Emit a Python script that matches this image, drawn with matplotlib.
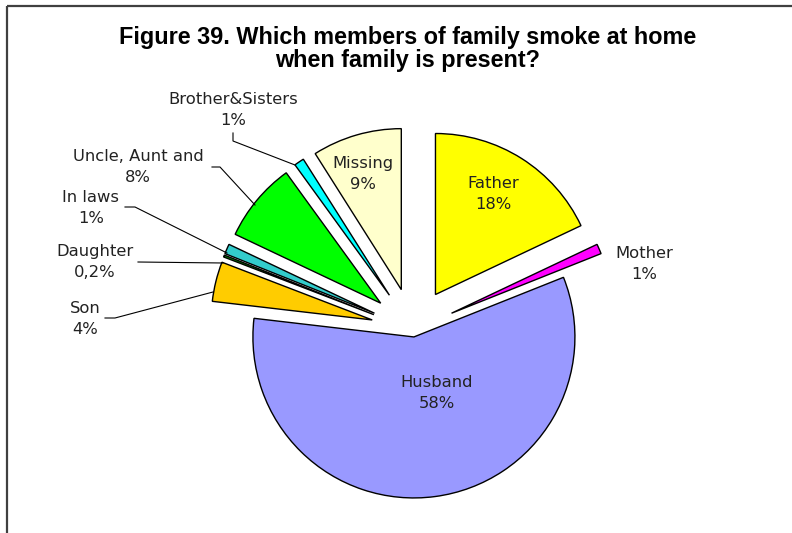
import matplotlib
matplotlib.use("Agg")
import matplotlib.pyplot as plt

# Share of respondents by which family member smokes at home (clockwise from 12 o'clock)
categories = ["Father", "Mother", "Husband", "Son", "Daughter", "In laws",
              "Uncle, Aunt and", "Brother&Sisters", "Missing"]
shares = [18, 1, 58, 4, 0.2, 1, 8, 1, 9]
share_labels = ["18%", "1%", "58%", "4%", "0,2%", "1%", "8%", "1%", "9%"]
colors = ["#FFFF00", "#FF00FF", "#9999FF", "#FFCC00", "#00A000", "#33CCCC",
          "#00FF00", "#00FFFF", "#FFFFCC"]

W, H = 792, 533
fig = plt.figure(figsize=(W / 100, H / 100), dpi=100)
ax = fig.add_axes([0, 0, 1, 1])

R = 161
cx, cy = 413, H - 330
explode = [42, 42, 7, 42, 42, 42, 42, 42, 42]

ax.pie(shares, colors=colors, explode=explode, startangle=90, counterclock=False,
       center=(cx, cy), radius=R,
       wedgeprops=dict(edgecolor="black", linewidth=1.0))

ax.set_xlim(0, W)
ax.set_ylim(0, H)
ax.set_aspect("equal")
ax.axis("off")

# chart frame
ax.plot([7, 7], [0, H - 6], color="#404040", lw=1.6, solid_capstyle="butt")
ax.plot([7, W], [H - 6, H - 6], color="#404040", lw=1.6, solid_capstyle="butt")

ax.text(408, H - 49, "Figure 39. Which members of family smoke at home\nwhen family is present?",
        ha="center", va="center", fontsize=16.8, fontweight="bold",
        family="Liberation Sans", linespacing=1.05)

lab_font = dict(fontsize=11.8, family="DejaVu Sans", color="#222222",
                ha="center", va="center", linespacing=1.45)

def lab(i, x, y, leader=None):
    ax.text(x, H - y, f"{categories[i]}\n{share_labels[i]}", **lab_font)
    if leader:
        xs = [p[0] for p in leader]
        ys = [H - p[1] for p in leader]
        ax.plot(xs, ys, color="black", lw=0.8)

# inside labels
lab(0, 493, 194)
lab(2, 437, 393)
lab(8, 363, 174)
# outside labels
lab(1, 644, 264)
lab(7, 233, 110, [(233, 133), (233, 141), (295, 165)])
lab(6, 138, 167, [(212, 167), (220, 167), (255, 205)])
lab(5, 91, 208, [(125, 207), (135, 207), (227, 253)])
lab(4, 95, 262, [(138, 262), (223, 263)])
lab(3, 85, 319, [(105, 318), (115, 318), (213, 292)])

fig.savefig("out.png", dpi=100)
